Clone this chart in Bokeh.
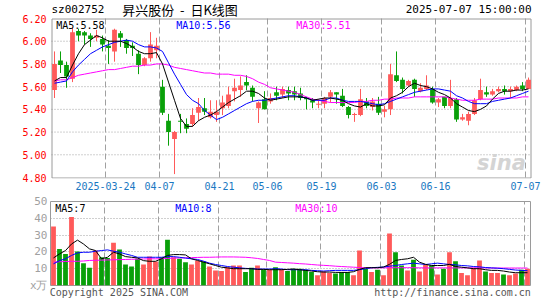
from bokeh.plotting import figure
from bokeh.layouts import column
from bokeh.models import Range1d, FixedTicker, NumeralTickFormatter, Label, ColumnDataSource
from bokeh.core.properties import value
from bokeh.embed import file_html
from bokeh.resources import INLINE

# ---- data ----
opens = [5.57, 5.83, 5.79, 5.67, 6.09, 6.08, 6.05, 6.03, 6.02, 5.96,
         5.91, 6.07, 6.01, 5.96, 5.89, 5.79, 5.85, 5.92, 5.60, 5.30,
         5.14, 5.30, 5.27, 5.27, 5.37, 5.41, 5.33, 5.35, 5.41, 5.43,
         5.56, 5.57, 5.64, 5.59, 5.41, 5.49, 5.47, 5.55, 5.53, 5.57,
         5.56, 5.54, 5.50, 5.48, 5.44, 5.45, 5.51, 5.55, 5.52, 5.42,
         5.35, 5.35, 5.47, 5.42, 5.45, 5.38, 5.40, 5.70, 5.66, 5.61,
         5.66, 5.56, 5.58, 5.58, 5.46, 5.51, 5.43, 5.49, 5.31, 5.30,
         5.36, 5.49, 5.55, 5.53, 5.56, 5.58, 5.56, 5.57, 5.61, 5.58]
highs = [5.91, 5.91, 5.82, 6.12, 6.11, 6.09, 6.07, 6.10, 6.05, 6.01,
         6.11, 6.09, 6.02, 5.99, 5.92, 5.86, 6.08, 6.03, 5.66, 5.36,
         5.21, 5.36, 5.32, 5.41, 5.50, 5.50, 5.48, 5.48, 5.52, 5.60,
         5.67, 5.69, 5.70, 5.61, 5.47, 5.56, 5.54, 5.60, 5.60, 5.60,
         5.60, 5.59, 5.51, 5.50, 5.49, 5.51, 5.57, 5.55, 5.58, 5.43,
         5.37, 5.58, 5.50, 5.50, 5.51, 5.43, 5.80, 5.91, 5.68, 5.66,
         5.67, 5.63, 5.70, 5.60, 5.50, 5.51, 5.66, 5.50, 5.36, 5.38,
         5.50, 5.67, 5.60, 5.58, 5.60, 5.61, 5.60, 5.61, 5.64, 5.68]
lows = [5.50, 5.72, 5.59, 5.64, 6.00, 5.97, 5.95, 6.00, 5.91, 5.80,
        5.82, 5.95, 5.89, 5.87, 5.71, 5.78, 5.82, 5.85, 5.35, 5.08,
        4.83, 5.19, 5.19, 5.25, 5.30, 5.35, 5.32, 5.29, 5.35, 5.41,
        5.47, 5.51, 5.57, 5.47, 5.28, 5.40, 5.45, 5.48, 5.50, 5.48,
        5.48, 5.48, 5.40, 5.41, 5.41, 5.41, 5.46, 5.45, 5.42, 5.32,
        5.29, 5.34, 5.41, 5.39, 5.35, 5.33, 5.35, 5.64, 5.54, 5.60,
        5.51, 5.55, 5.57, 5.45, 5.42, 5.41, 5.41, 5.29, 5.30, 5.26,
        5.35, 5.48, 5.51, 5.52, 5.55, 5.53, 5.50, 5.56, 5.56, 5.58]
closes = [5.80, 5.79, 5.69, 6.08, 6.05, 6.05, 6.02, 6.05, 5.97, 5.94,
          6.10, 6.03, 5.94, 5.94, 5.79, 5.85, 5.97, 5.96, 5.37, 5.20,
          5.20, 5.29, 5.23, 5.35, 5.42, 5.38, 5.38, 5.38, 5.46, 5.53,
          5.59, 5.61, 5.61, 5.51, 5.46, 5.40, 5.50, 5.52, 5.58, 5.54,
          5.53, 5.50, 5.49, 5.46, 5.45, 5.50, 5.55, 5.53, 5.43, 5.35,
          5.36, 5.49, 5.43, 5.47, 5.37, 5.40, 5.71, 5.65, 5.58, 5.65,
          5.58, 5.59, 5.61, 5.46, 5.49, 5.43, 5.50, 5.31, 5.33, 5.36,
          5.48, 5.57, 5.53, 5.56, 5.58, 5.56, 5.58, 5.60, 5.58, 5.66]
ma5 = [5.65, 5.68, 5.68, 5.79, 5.89, 5.97, 6.01, 6.05, 6.03, 6.00,
       6.00, 6.00, 5.98, 5.95, 5.91, 5.89, 5.89, 5.90, 5.80, 5.64,
       5.48, 5.32, 5.25, 5.25, 5.30, 5.33, 5.35, 5.38, 5.42, 5.46,
       5.49, 5.52, 5.56, 5.56, 5.54, 5.50, 5.48, 5.49, 5.50, 5.51,
       5.51, 5.51, 5.50, 5.48, 5.49, 5.50, 5.50, 5.49, 5.48, 5.45,
       5.43, 5.42, 5.45, 5.43, 5.43, 5.44, 5.50, 5.52, 5.55, 5.60,
       5.63, 5.61, 5.60, 5.58, 5.55, 5.53, 5.50, 5.45, 5.42, 5.39,
       5.38, 5.40, 5.43, 5.49, 5.54, 5.56, 5.56, 5.57, 5.57, 5.58]
ma10 = [5.63, 5.64, 5.65, 5.73, 5.79, 5.84, 5.89, 5.92, 5.95, 5.97,
        5.99, 6.00, 6.01, 6.00, 5.97, 5.95, 5.95, 5.94, 5.91, 5.81,
        5.71, 5.62, 5.53, 5.48, 5.45, 5.39, 5.35, 5.31, 5.33, 5.36,
        5.39, 5.42, 5.45, 5.47, 5.48, 5.48, 5.49, 5.50, 5.51, 5.52,
        5.52, 5.51, 5.50, 5.48, 5.48, 5.48, 5.50, 5.50, 5.48, 5.47,
        5.47, 5.47, 5.46, 5.45, 5.44, 5.45, 5.47, 5.49, 5.51, 5.53,
        5.55, 5.56, 5.57, 5.58, 5.58, 5.57, 5.56, 5.52, 5.50, 5.47,
        5.45, 5.45, 5.45, 5.47, 5.48, 5.49, 5.50, 5.52, 5.54, 5.56]
ma30 = [5.65, 5.66, 5.66, 5.68, 5.70, 5.71, 5.72, 5.73, 5.74, 5.75,
        5.75, 5.76, 5.77, 5.78, 5.78, 5.79, 5.79, 5.80, 5.80, 5.79,
        5.77, 5.76, 5.75, 5.74, 5.73, 5.72, 5.72, 5.71, 5.71, 5.71,
        5.70, 5.70, 5.69, 5.67, 5.64, 5.62, 5.59, 5.58, 5.57, 5.56,
        5.55, 5.53, 5.51, 5.49, 5.48, 5.47, 5.46, 5.46, 5.46, 5.46,
        5.46, 5.47, 5.47, 5.48, 5.48, 5.49, 5.49, 5.50, 5.50, 5.50,
        5.51, 5.51, 5.51, 5.51, 5.51, 5.51, 5.50, 5.49, 5.48, 5.48,
        5.48, 5.49, 5.49, 5.49, 5.50, 5.50, 5.50, 5.50, 5.51, 5.51]
volumes = [35.1, 21.8, 18.8, 40.8, 20.2, 13.3, 10.6, 20.8, 16.8, 16.4,
           25.5, 21.4, 12.5, 11.3, 15.9, 12.5, 17.2, 14.3, 16.8, 27.2,
           16.8, 15.9, 13.9, 12.5, 14.7, 14.3, 11.3, 9.0, 8.6, 10.9,
           11.9, 11.9, 8.0, 10.6, 11.9, 9.4, 9.4, 10.9, 9.6, 8.6,
           10.0, 10.0, 9.4, 8.0, 6.1, 8.4, 7.4, 7.1, 8.0, 8.0,
           6.1, 20.8, 10.0, 8.0, 9.4, 6.1, 30.9, 19.8, 11.9, 9.0,
           15.3, 8.4, 12.5, 11.9, 6.6, 10.0, 19.8, 14.5, 7.4, 6.1,
           10.5, 14.9, 8.4, 7.4, 7.4, 6.6, 6.1, 7.1, 9.4, 10.0]
vol_ma5 = [16.4, 18.8, 20.8, 24.7, 27.0, 24.7, 21.8, 20.8, 15.9, 16.8,
           19.8, 18.8, 17.2, 16.8, 16.4, 14.8, 14.4, 14.4, 15.9, 17.9,
           18.4, 18.4, 18.2, 15.9, 14.9, 13.9, 12.9, 11.9, 10.9, 10.5,
           10.0, 10.0, 10.0, 10.0, 9.6, 9.6, 9.4, 9.4, 9.4, 9.6,
           9.8, 9.4, 9.0, 8.6, 8.2, 8.0, 8.0, 7.8, 7.8, 7.8,
           8.2, 9.6, 10.6, 10.6, 10.6, 11.0, 12.6, 14.9, 15.5, 15.9,
           16.8, 13.9, 12.6, 11.9, 11.9, 11.9, 12.6, 11.3, 10.9, 10.5,
           10.0, 10.0, 9.4, 9.0, 9.0, 8.6, 8.0, 7.6, 7.6, 7.6]
vol_ma10 = [12.9, 14.8, 15.9, 17.9, 19.4, 19.8, 19.8, 20.4, 20.8, 21.2,
            20.4, 19.8, 18.8, 17.9, 16.8, 16.8, 16.8, 16.8, 16.8, 17.2,
            17.2, 16.8, 16.3, 15.9, 15.5, 14.5, 13.3, 12.5, 11.9, 11.3,
            10.9, 10.5, 10.2, 10.0, 9.8, 9.8, 9.8, 10.0, 9.8, 9.4,
            9.4, 9.4, 9.4, 9.0, 8.8, 8.6, 8.8, 9.0, 9.0, 9.0,
            9.0, 9.4, 10.0, 10.6, 10.8, 11.0, 11.5, 11.9, 12.5, 12.9,
            13.3, 12.9, 12.5, 12.9, 13.3, 12.9, 12.5, 12.3, 11.9, 11.7,
            11.3, 11.1, 10.7, 10.5, 10.3, 10.0, 9.6, 9.2, 9.0, 8.8]
vol_ma30 = [13.9, 14.1, 14.3, 14.4, 14.4, 14.6, 14.9, 15.0, 15.1, 15.2,
            15.3, 15.4, 15.5, 15.6, 15.7, 15.8, 15.9, 15.9, 15.9, 16.1,
            16.3, 16.4, 16.5, 16.6, 16.7, 16.8, 16.8, 16.9, 17.0, 17.0,
            17.0, 16.9, 16.8, 16.5, 16.1, 15.5, 14.9, 13.9, 13.7, 13.5,
            13.3, 13.0, 12.8, 12.5, 12.2, 12.0, 11.8, 11.5, 11.3, 11.1,
            10.9, 10.7, 10.5, 10.5, 10.5, 10.5, 10.6, 10.6, 10.6, 10.6,
            10.6, 10.5, 10.5, 10.5, 10.5, 10.5, 10.5, 10.5, 10.5, 10.5,
            10.5, 10.5, 10.5, 10.4, 10.4, 10.4, 10.4, 10.4, 10.4, 10.4]
date_ticks = [9, 18, 28, 36, 45, 55, 64, 79]
date_labels = ["2025-03-24", "04-07", "04-21", "05-06", "05-19", "06-03", "06-16", "07-07"]
price_ticks = [4.80, 5.00, 5.20, 5.40, 5.60, 5.80, 6.00, 6.20]
vol_ticks = [0, 10, 20, 30, 40, 50]
vol_tick_labels = ["x万", "10", "20", "30", "40", "50"]
stock_code = "sz002752"
chart_title = "昇兴股份\u00a0\u00a0-\u00a0\u00a0日K线图"
stamp = "2025-07-07 15:00:00"
footer_texts = ["Copyright 2025 SINA.COM", "http://finance.sina.com.cn"]
footer_pos = [11.4, 67.0]

RED = "#ff5a5a"
GREEN = "#09a009"
GRID = "#a0a0a0"
FRAME = "#9a9a9a"
MONO = "DejaVu Sans Mono"

n = len(closes)
xs = [i + 0.5 for i in range(n)]
colors = [RED if c >= o else GREEN for o, c in zip(opens, closes)]
tops = [max(o, c) for o, c in zip(opens, closes)]
bots = [min(o, c) if abs(o - c) >= 0.01 else max(o, c) - 0.01 for o, c in zip(opens, closes)]

src = ColumnDataSource(dict(x=xs, o=opens, h=highs, l=lows, c=closes, top=tops, bot=bots,
                            color=colors, ma5=ma5, ma10=ma10, ma30=ma30, vol=volumes,
                            vma5=vol_ma5, vma10=vol_ma10, vma30=vol_ma30))

# ---- price panel (frame also holds the header strip above the 6.20 line) ----
pmin, pmax = price_ticks[0], price_ticks[-1]
px_y = (pmax - pmin) / 159.0      # price units per pixel
px_x = 1.0 / 6.0                  # index units per pixel
p = figure(frame_width=482, frame_height=178,
           x_range=Range1d(-px_x, n + px_x), y_range=Range1d(pmin - px_y, pmax + 18 * px_y),
           output_backend="svg", toolbar_location=None,
           min_border_left=49, min_border_right=14, min_border_top=0, min_border_bottom=16)
p.outline_line_color = None
p.xgrid.visible = False
p.ygrid.visible = False

# grid lines and panel frame
inner = price_ticks[1:-1]
p.segment(x0=[0] * len(inner), x1=[n] * len(inner), y0=inner, y1=inner,
          line_color=GRID, line_dash="1 2", line_width=1)
p.segment(x0=date_ticks, x1=date_ticks, y0=[pmin] * len(date_ticks), y1=[pmax] * len(date_ticks),
          line_color=GRID, line_dash="6 3", line_width=1)
p.quad(left=[0.5 * px_x], right=[n - 0.5 * px_x], bottom=[pmin - 0.5 * px_y], top=[pmax - 0.5 * px_y],
       fill_color=None, line_color=FRAME, line_width=1)

p.segment(x0="x", y0="l", x1="x", y1="h", color="color", line_width=1, source=src)
p.vbar(x="x", top="top", bottom="bot", width=0.8, fill_color="color", line_color=None, source=src)
p.line(x="x", y="ma30", color="#ff00ff", line_width=1, source=src)
p.line(x="x", y="ma10", color="#0000ff", line_width=1, source=src)
p.line(x="x", y="ma5", color="#000000", line_width=1, source=src)

# header texts
p.text(x=[0], y=[pmax + 9 * px_y], text=[stock_code], text_font=value(MONO), text_font_size="11px",
       text_color="#000000", text_baseline="middle")
p.text(x=[11.8], y=[pmax + 9.5 * px_y], text=[chart_title], text_font=value("Noto Sans CJK SC"),
       text_font_size="13px", text_color="#000000", text_baseline="middle")
p.text(x=[n], y=[pmax + 9 * px_y], text=[stamp], text_font=value(MONO), text_font_size="11px",
       text_color="#000000", text_baseline="middle", text_align="right")

p.xaxis.ticker = FixedTicker(ticks=date_ticks)
p.xaxis.major_label_overrides = {t: s for t, s in zip(date_ticks, date_labels)}
p.xaxis.major_label_text_color = "#1a78c2"
p.xaxis.major_label_text_font = MONO
p.xaxis.major_label_text_font_size = "10px"
p.xaxis.major_tick_out = 0
p.xaxis.major_tick_in = 0
p.xaxis.major_tick_line_color = None
p.xaxis.minor_tick_line_color = None
p.xaxis.axis_line_color = None
p.xaxis.major_label_standoff = 3

p.yaxis.ticker = FixedTicker(ticks=price_ticks)
p.yaxis.formatter = NumeralTickFormatter(format="0.00")
p.yaxis.major_label_text_color = "#ff0000"
p.yaxis.major_label_text_font = MONO
p.yaxis.major_label_text_font_size = "10px"
p.yaxis.major_tick_out = 0
p.yaxis.major_tick_in = 0
p.yaxis.major_tick_line_color = None
p.yaxis.minor_tick_line_color = None
p.yaxis.axis_line_color = None
p.yaxis.major_label_standoff = 4

def lab(fig, x, y, text, color, size="10px", font=MONO, align="left", baseline="top", **kw):
    fig.add_layout(Label(x=x, y=y, text=text, text_color=color, text_font=font,
                         text_font_size=size, text_align=align, text_baseline=baseline, **kw))

lab(p, 0.8, pmax - 1.5 * px_y, "MA5:%.2f" % ma5[-1], "#000000")
lab(p, 20.8, pmax - 1.5 * px_y, "MA10:%.2f" % ma10[-1], "#0000ff")
lab(p, 40.8, pmax - 1.5 * px_y, "MA30:%.2f" % ma30[-1], "#ff00ff")
lab(p, 75.0, 4.93, "sina", "#d4d4d4", size="21px", font="DejaVu Sans", align="center",
    baseline="middle", text_font_style="bold italic")

# ---- volume panel ----
v = figure(frame_width=480, frame_height=84, x_range=Range1d(0, n), y_range=Range1d(0, 50),
           output_backend="svg", toolbar_location=None,
           min_border_left=50, min_border_right=15, min_border_top=7, min_border_bottom=15)
v.outline_line_color = FRAME
v.vbar(x="x", top="vol", bottom=0, width=0.8, fill_color="color", line_color=None, source=src)
v.line(x="x", y="vma30", color="#ff00ff", line_width=1, source=src)
v.line(x="x", y="vma10", color="#0000ff", line_width=1, source=src)
v.line(x="x", y="vma5", color="#000000", line_width=1, source=src)

# footer texts carried by the bottom axis
v.xaxis.ticker = FixedTicker(ticks=footer_pos)
v.xaxis.major_label_overrides = {t: s for t, s in zip(footer_pos, footer_texts)}
v.xaxis.major_label_text_color = "#555555"
v.xaxis.major_label_text_font = MONO
v.xaxis.major_label_text_font_size = "10px"
v.xaxis.major_tick_out = 0
v.xaxis.major_tick_in = 0
v.xaxis.major_tick_line_color = None
v.xaxis.minor_tick_line_color = None
v.xaxis.axis_line_color = None
v.xaxis.major_label_standoff = 1

v.xgrid.ticker = FixedTicker(ticks=date_ticks)
v.xgrid.grid_line_color = GRID
v.xgrid.grid_line_dash = "6 3"
v.yaxis.ticker = FixedTicker(ticks=vol_ticks)
v.yaxis.major_label_overrides = {t: s for t, s in zip(vol_ticks, vol_tick_labels)}
v.yaxis.major_label_text_color = "#a0a0a0"
v.yaxis.major_label_text_font = MONO
v.yaxis.major_label_text_font_size = "11px"
v.yaxis.major_tick_out = 0
v.yaxis.major_tick_in = 0
v.yaxis.major_tick_line_color = None
v.yaxis.minor_tick_line_color = None
v.yaxis.axis_line_color = None
v.yaxis.major_label_standoff = 3
v.ygrid.ticker = FixedTicker(ticks=vol_ticks[1:])
v.ygrid.grid_line_color = GRID
v.ygrid.grid_line_dash = "1 2"

lab(v, 0.8, 49.2, "MA5:%d" % int(vol_ma5[-1]), "#000000")
lab(v, 20.8, 49.2, "MA10:%d" % int(vol_ma10[-1]), "#0000ff")
lab(v, 40.8, 49.2, "MA30:%d" % int(vol_ma30[-1]), "#ff00ff")

layout = column(p, v, spacing=0)
open("out.html", "w").write(file_html(layout, INLINE))
